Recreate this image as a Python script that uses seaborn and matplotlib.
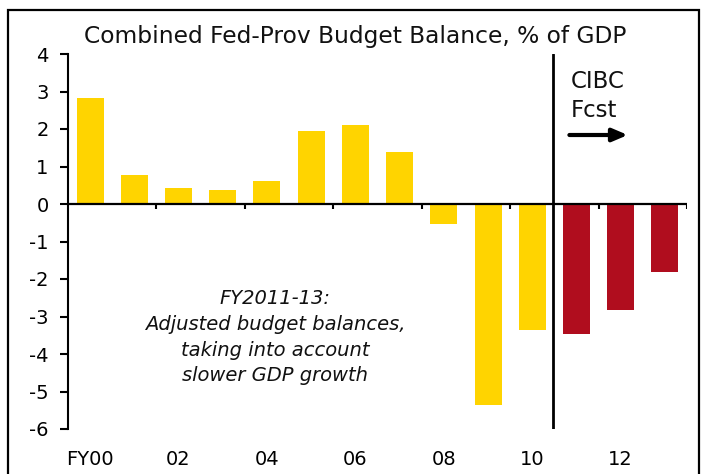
import matplotlib
matplotlib.use("Agg")
import matplotlib.pyplot as plt
import seaborn as sns
import pandas as pd
from matplotlib.patches import Rectangle

# Fiscal years and combined federal-provincial budget balance (% of GDP)
years = ["FY00", "01", "02", "03", "04", "05", "06", "07", "08", "09", "10", "11", "12", "13"]
balance = [2.83, 0.77, 0.43, 0.37, 0.61, 1.95, 2.11, 1.39, -0.53, -5.35, -3.36, -3.47, -2.82, -1.80]
kind = ["Actual"] * 11 + ["Forecast"] * 3
tick_labels = ["FY00", "02", "04", "06", "08", "10", "12"]

colors = {"Actual": "#FFD400", "Forecast": "#B00D1E"}

df = pd.DataFrame({"year": years, "balance": balance, "kind": kind})

sns.set_theme(style="white")
plt.rcParams["font.family"] = ["DejaVu Sans"]
plt.rcParams["axes.unicode_minus"] = False

fig = plt.figure(figsize=(7.05, 4.74), dpi=100)
ax = fig.add_axes([68 / 705, 1 - 429 / 474, (687 - 68) / 705, (429 - 54) / 474])

sns.barplot(data=df, x="year", y="balance", hue="kind", palette=colors,
            order=years, width=0.61, dodge=False, legend=False, ax=ax,
            saturation=1, linewidth=0, edgecolor="none")

ax.set_xlim(-0.5, len(years) - 0.5)
ax.set_ylim(-6, 4)
ax.set_yticks(range(-6, 5))
ax.set_xlabel("")
ax.set_ylabel("")

for side in ["top", "right", "bottom"]:
    ax.spines[side].set_visible(False)
ax.spines["left"].set_color("black")
ax.spines["left"].set_linewidth(1.5)

ax.tick_params(axis="y", left=True, direction="out", length=6, width=1.5,
               labelsize=14, pad=8, colors="black")
ax.set_xticks(range(0, len(years), 2))
ax.set_xticklabels(tick_labels)
ax.tick_params(axis="x", bottom=False, length=0, labelsize=14, pad=15,
               labelcolor="black")

# Zero line with downward tick marks between every second category
ax.axhline(0, color="black", lw=1.6, zorder=3)
group_edges = [i + 1.5 for i in range(0, len(years), 2)]
ax.vlines(group_edges, -0.14, 0, color="black", lw=1.5, zorder=3)

# Forecast divider
ax.axvline(10.47, color="black", lw=2, ymin=0, ymax=1, zorder=4)

ax.text(10.86, 2.88, "CIBC\nFcst", fontsize=16.5, ha="left", va="center",
        linespacing=1.3, color="#111111")
ax.annotate("", xy=(12.16, 1.84), xytext=(10.84, 1.84),
            arrowprops=dict(arrowstyle="-|>,head_length=0.75,head_width=0.32",
                            lw=3, color="black", shrinkA=0, shrinkB=0))

ax.text(4.18, -3.55, "FY2011-13:\nAdjusted budget balances,\ntaking into account\nslower GDP growth",
        fontsize=14, style="italic", ha="center", va="center",
        linespacing=1.45, color="#111111")

fig.text(355 / 705, 1 - 37 / 474, "Combined Fed-Prov Budget Balance, % of GDP",
         fontsize=16.8, ha="center", va="center", color="#111111")

# Outer frame
fig.patches.append(Rectangle((8 / 705, -0.05), (699 - 8) / 705, 1.05 - 10 / 474,
                             transform=fig.transFigure, fill=False,
                             edgecolor="black", lw=1.6))

fig.savefig("out.png", dpi=100)
